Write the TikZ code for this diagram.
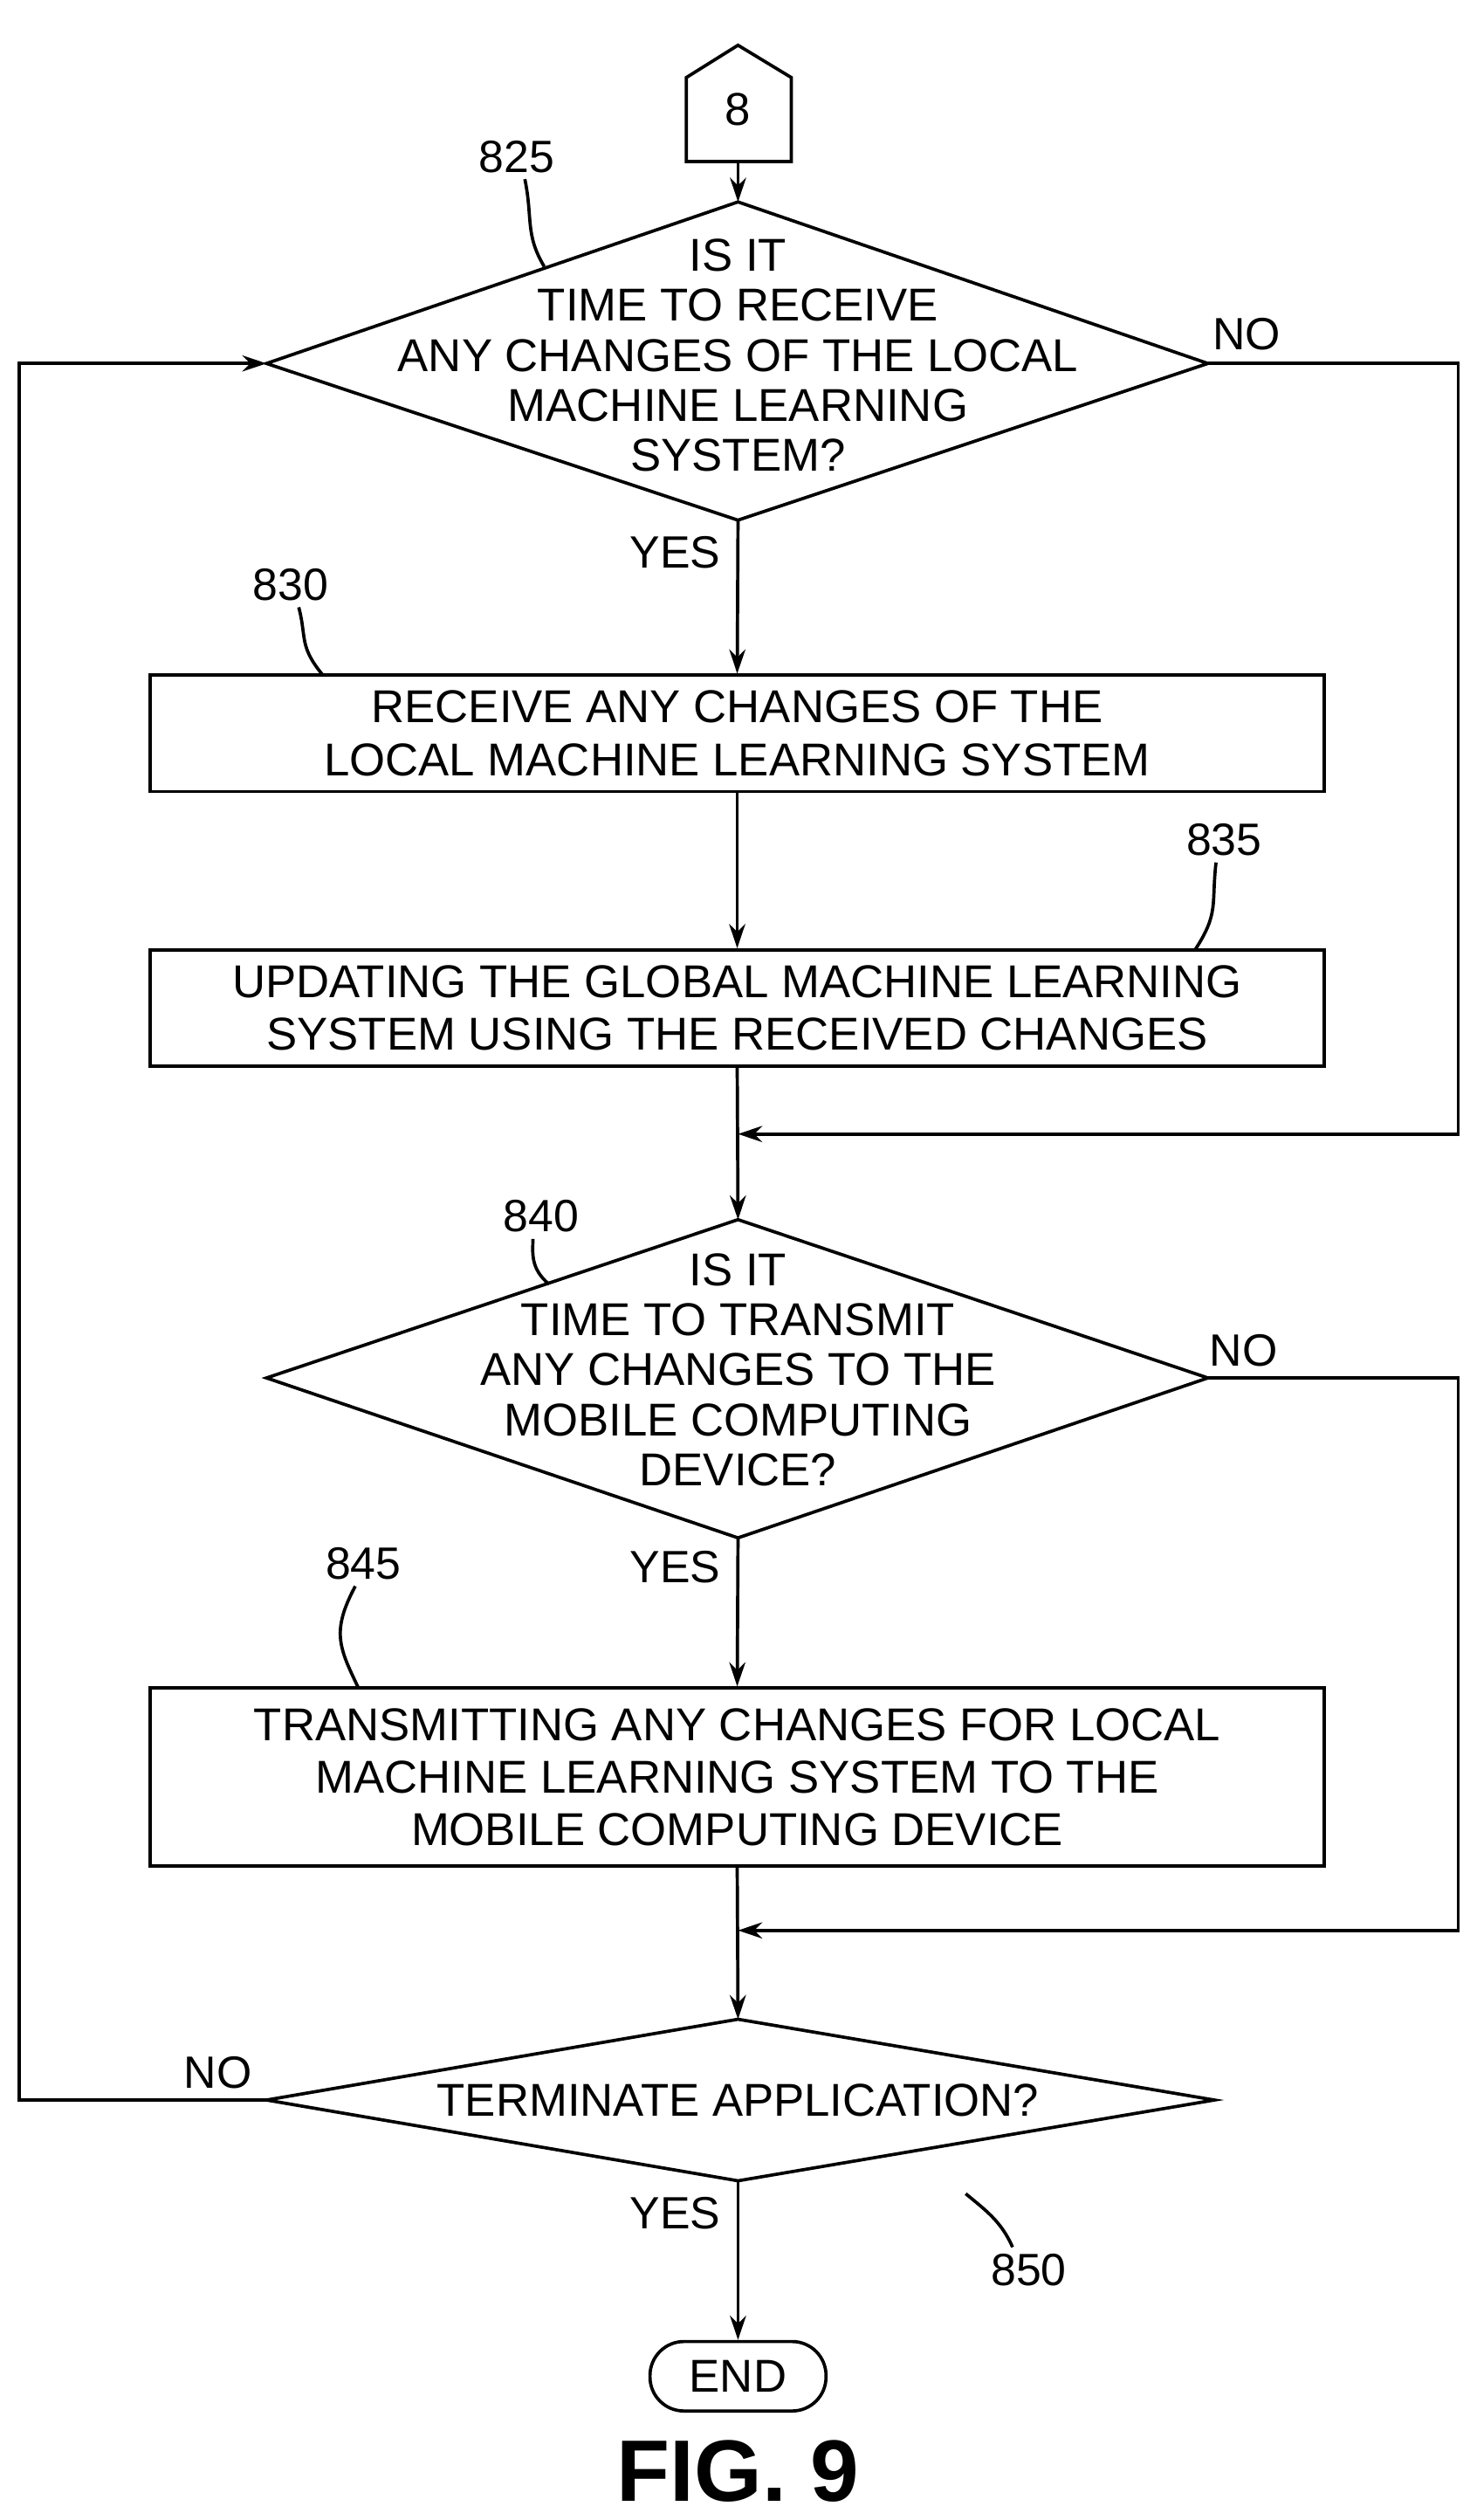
\documentclass[tikz,border=0pt]{standalone}
\usepackage{fontspec}
\setmainfont{Liberation Sans}
\usetikzlibrary{arrows.meta}
\begin{document}
\begin{tikzpicture}[x=1pt,y=-1pt,line width=2pt,
  arr/.style={-{Stealth[length=15pt,width=10pt]}},
  txt/.style={font=\fontsize{28.5}{31}\selectfont,align=center,inner sep=0pt},
  lab/.style={font=\fontsize{28}{32}\selectfont,inner sep=1pt},
  box/.style={draw,minimum width=727pt,align=center,font=\fontsize{28.5}{32.5}\selectfont}]
\useasboundingbox (0,0) rectangle (910,1560);
% connector 8
\draw (457,28) -- (490,48) -- (490,100) -- (425,100) -- (425,48) -- cycle;
\node[txt] (c8) at (457,68) {8};
\coordinate (c8b) at (457,100);
% diamond 825
\coordinate (d1t) at (457,125); \coordinate (d1b) at (457,322);
\coordinate (d1l) at (165,225); \coordinate (d1r) at (748,225);
\draw (d1t)--(d1r)--(d1b)--(d1l)--cycle;
\node[txt] (d1) at (457,220) {IS IT\\TIME TO RECEIVE\\ANY CHANGES OF THE LOCAL\\MACHINE LEARNING\\SYSTEM?};
\node[box,minimum height=72pt] (b830) at (456.5,454) {RECEIVE ANY CHANGES OF THE\\LOCAL MACHINE LEARNING SYSTEM};
\node[box,minimum height=72pt] (b835) at (456.5,624) {UPDATING THE GLOBAL MACHINE LEARNING\\SYSTEM USING THE RECEIVED CHANGES};
% diamond 840
\coordinate (d2t) at (457,755); \coordinate (d2b) at (457,952);
\coordinate (d2l) at (165,853); \coordinate (d2r) at (748,853);
\draw (d2t)--(d2r)--(d2b)--(d2l)--cycle;
\node[txt] (d2) at (457,848) {IS IT\\TIME TO TRANSMIT\\ANY CHANGES TO THE\\MOBILE COMPUTING\\DEVICE?};
\node[box,minimum height=110pt] (b845) at (456.5,1100) {TRANSMITTING ANY CHANGES FOR LOCAL\\MACHINE LEARNING SYSTEM TO THE\\MOBILE COMPUTING DEVICE};
% diamond 850
\coordinate (d3t) at (457,1250); \coordinate (d3b) at (457,1350);
\coordinate (d3l) at (165,1300); \coordinate (d3r) at (752,1300);
\draw (d3t)--(d3r)--(d3b)--(d3l)--cycle;
\node[txt] (d3) at (457,1300) {TERMINATE APPLICATION?};
\node[draw,rounded corners=21pt,minimum width=109pt,minimum height=43pt,txt] (end) at (457,1471) {END};
\node[font=\fontsize{54}{60}\selectfont\bfseries] (fig) at (457,1530) {FIG. 9};
% merges
\coordinate (m1) at (457,702); \coordinate (m2) at (457,1195);
% connectors
\draw[arr] (c8b) -- (d1t);
\draw[arr] (d1b) -- (b830.north);
\draw[arr] (b830.south) -- (b835.north);
\draw[arr] (b835.south) -- (d2t);
\draw[arr] (d1r) -- (903,225) -- (903,702) -- (m1);
\draw[arr] (d2b) -- (b845.north);
\draw[arr] (b845.south) -- (d3t);
\draw[arr] (d2r) -- (903,853) -- (903,1195) -- (m2);
\draw[arr] (d3l) -- (12,1300) -- (12,225) -- (d1l);
\draw[arr] (d3b) -- (end.north);
% labels
\node[lab] (l825) at (320,97) {825};
\draw (l825.south) ++(5,2) .. controls (330,135) and (325,145) .. (337,165);
\node[lab] (l830) at (180,362) {830};
\draw (l830.south) ++(5,2) .. controls (190,395) and (185,400) .. (200,418);
\node[lab] (l835) at (758,520) {835};
\draw (l835.south) ++(-5,2) .. controls (750,560) and (755,565) .. (740,588);
\node[lab] (l840) at (335,753) {840};
\draw (l840.south) ++(-5,2) .. controls (330,775) and (328,785) .. (340,795);
\node[lab] (l845) at (225,968) {845};
\draw (l845.south) ++(-5,2) .. controls (205,1010) and (210,1020) .. (222,1045);
\node[lab] (l850) at (637,1405) {850};
\draw (l850.north) ++(-10,-2) .. controls (620,1375) and (610,1368) .. (598,1358);
\node[lab] (y1) at (418,342) {YES};
\node[lab] (n1) at (772,207) {NO};
\node[lab] (y2) at (418,970) {YES};
\node[lab] (n2) at (770,836) {NO};
\node[lab] (y3) at (418,1370) {YES};
\node[lab] (n3) at (135,1283) {NO};
\end{tikzpicture}
\end{document}
